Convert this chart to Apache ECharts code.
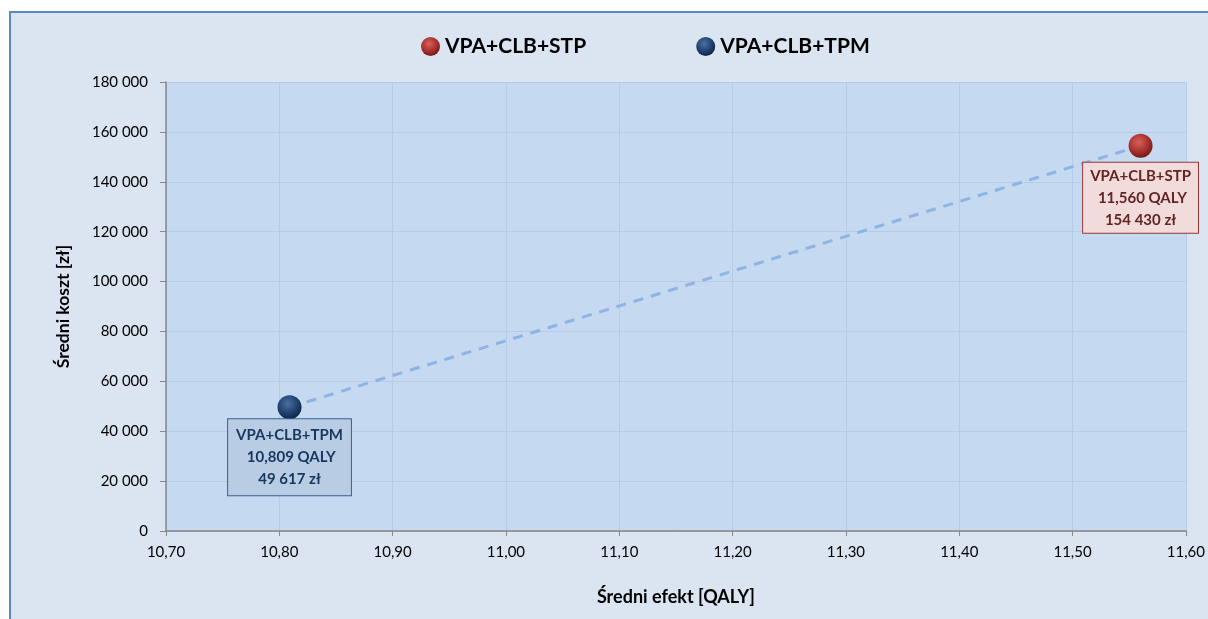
<!DOCTYPE html>
<html><head><meta charset="utf-8">
<script src="https://cdn.jsdelivr.net/npm/echarts@6/dist/echarts.min.js"></script>
<style>html,body{margin:0;padding:0;background:#fff;}#c{width:1208px;height:619px;}</style>
</head><body><div id="c"></div>
<script>
var seriesNames = ['VPA+CLB+STP', 'VPA+CLB+TPM'];
var effects = [11.560, 10.809];
var costs = [154430, 49617];
var effectLabels = ['11,560', '10,809'];
var costLabels = ['154 430', '49 617'];
var xTicks = [10.70, 10.80, 10.90, 11.00, 11.10, 11.20, 11.30, 11.40, 11.50, 11.60];
var yTicks = [0, 20000, 40000, 60000, 80000, 100000, 120000, 140000, 160000, 180000];

var FONT = 'Lato, "Open Sans", sans-serif';
function sphere(c0, c1, c2) {
  return {type:'radial', x:0.42, y:0.35, r:0.75, colorStops:[{offset:0,color:c0},{offset:0.55,color:c1},{offset:1,color:c2}]};
}
var styles = [
  {fill: sphere('#d8615d', '#a8302c', '#5e1210'), bg:'#f2dcdb', border:'#953735', text:'#632523', dist:5, pad:[2,7]},
  {fill: sphere('#4a70a2', '#1f416e', '#0a1a33'), bg:'#b8cce4', border:'#376092', text:'#17375e', dist:0, pad:[5,8]}
];
function fmtThousands(v){ return String(Math.round(v)).replace(/\B(?=(\d{3})+(?!\d))/g, ' '); }

var series = seriesNames.map(function(n, i){
  var s = styles[i];
  return {
    name: n, type: 'scatter', z: 5,
    symbolSize: 24,
    itemStyle: {color: s.fill, opacity: 1},
    data: [[effects[i], costs[i]]],
    label: {
      show: true, position: 'bottom', distance: s.dist,
      formatter: n + '\n ' + effectLabels[i] + ' QALY\n' + costLabels[i] + ' zł',
      fontFamily: FONT, fontWeight: 'bold', fontSize: 15, color: s.text,
      lineHeight: 22, align: 'center',
      backgroundColor: s.bg, borderColor: s.border, borderWidth: 1, padding: s.pad
    }
  };
});
series.unshift({
  type: 'line', silent: true, z: 3, symbol: 'none',
  data: [[effects[1], costs[1]], [effects[0], costs[0]]],
  lineStyle: {color: '#8db4e2', width: 3, type: [10, 8]}
});

var chart = echarts.init(document.getElementById('c'));
chart.setOption({
  animation: false,
  backgroundColor: '#ffffff',
  graphic: [{type:'rect', z:-10, shape:{x:10, y:12, width:1300, height:700}, style:{fill:'#dbe5f1', stroke:'#5b87c3', lineWidth:2}}],
  legend: {
    top: 31, left: 416, itemGap: 110, itemWidth: 19, itemHeight: 19, icon: 'circle',
    data: seriesNames,
    textStyle: {fontFamily: FONT, fontWeight: 'bold', fontSize: 21, color: '#000'}
  },
  grid: {left: 166, right: 22, top: 82, bottom: 88, show: true, backgroundColor: '#c5d9f1', borderWidth: 0},
  xAxis: {
    type: 'value', min: xTicks[0], max: xTicks[xTicks.length-1], interval: 0.1,
    name: 'Średni efekt [QALY]', nameLocation: 'middle', nameGap: 57,
    nameTextStyle: {fontFamily: FONT, fontWeight: 'bold', fontSize: 18, color: '#000'},
    axisLine: {show: true, onZero: false, lineStyle: {color: '#868686', width: 1.5}},
    axisTick: {show: true, length: 5, lineStyle: {color: '#868686'}},
    axisLabel: {margin: 14, fontFamily: FONT, fontSize: 15, color: '#000', formatter: function(v){ return v.toFixed(2).replace('.', ','); }},
    splitLine: {show: true, lineStyle: {color: '#b6cbe6', width: 1}}
  },
  yAxis: {
    type: 'value', min: yTicks[0], max: yTicks[yTicks.length-1], interval: 20000,
    name: 'Średni koszt [zł]', nameLocation: 'middle', nameGap: 94,
    nameTextStyle: {fontFamily: FONT, fontWeight: 'bold', fontSize: 17.5, color: '#000'},
    axisLine: {show: true, lineStyle: {color: '#868686', width: 1.5}},
    axisTick: {show: true, length: 6, lineStyle: {color: '#868686'}},
    axisLabel: {margin: 18, fontFamily: FONT, fontSize: 15, color: '#000', formatter: fmtThousands},
    splitLine: {show: true, lineStyle: {color: '#b6cbe6', width: 1}}
  },
  series: series
});
</script></body></html>
